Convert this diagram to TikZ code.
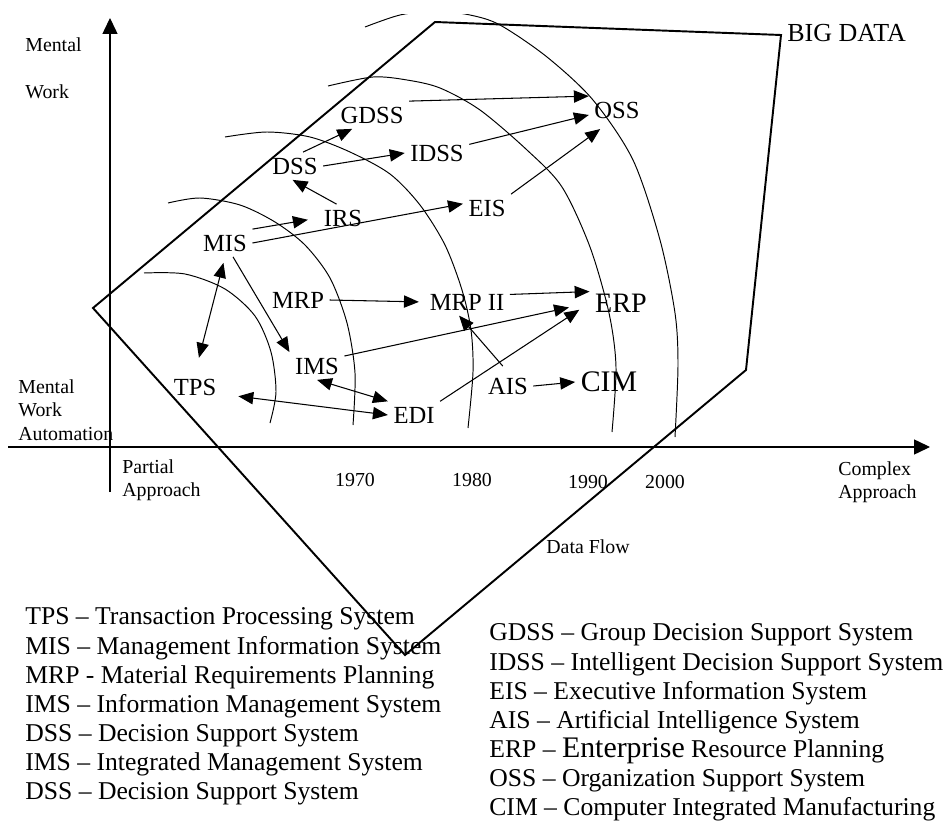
\documentclass[tikz,border=0pt]{standalone}
\usepackage{fontspec}
\setmainfont{Liberation Serif}
\usetikzlibrary{arrows.meta, positioning}

\tikzset{
  sys/.style={font=\fontsize{14}{16}\selectfont, inner sep=3pt},
  erpsys/.style={sys, font=\fontsize{16}{18}\selectfont},
  cimsys/.style={sys, font=\fontsize{17}{19}\selectfont},
  axlab/.style={font=\fontsize{11.3}{13.5}\selectfont, inner sep=0pt, align=left},
  legend/.style={font=\fontsize{14.6}{16.2}\selectfont, inner sep=0pt,
                 text height=11.5pt, text depth=4.7pt, anchor=west},
  flow/.style={line width=0.6pt, -{Triangle[length=8.5pt,width=7pt]}},
  both/.style={line width=0.6pt, {Triangle[length=8.5pt,width=7pt]}-{Triangle[length=8.5pt,width=7pt]}},
  axis/.style={line width=0.6pt, -{Triangle[length=9pt,width=8.5pt]}},
  era/.style={line width=0.55pt},
  bigdata/.style={line width=1.1pt, line join=miter}
}

\begin{document}
\begin{tikzpicture}[x=0.02cm, y=-0.02cm, node distance=0pt]
\useasboundingbox (0,0) rectangle (944,821);

% decades
\begin{scope}
\clip (0,15) rectangle (944,821);
\draw[era] plot[smooth] coordinates {(144,273) (185,274) (225,289) (255,316) (271,352) (276,392) (270,423)};
\draw[era] plot[smooth] coordinates {(168,203) (200,198) (240,205) (275,222) (305,245) (330,278) (347,323) (355,373) (353,425)};
\draw[era] plot[smooth] coordinates {(225,137) (267,132) (310,137) (350,152) (390,174) (420,205) (445,245) (462,290) (471,330) (473,372) (468,428)};
\draw[era] plot[smooth] coordinates {(328,86) (373,77) (407,80) (440,88) (480,110) (527,150) (562,187) (590,247) (609,313) (616,367) (612,432)};
\draw[era] plot[smooth] coordinates {(365,27) (400,15) (435,11) (470,15) (500,25) (547,57) (593,100) (633,160) (660,240) (675,313) (678,365) (675,437)};
\end{scope}

% axes
\coordinate (yfoot) at (110,492);
\coordinate (ytop) at (110,18);
\coordinate (xfoot) at (8,447);
\coordinate (xtip) at (930,447);
\draw[axis] (yfoot) -- (ytop);
\draw[axis] (xfoot) -- (xtip);

\node[axlab, anchor=west] (mental) at (25,45) {Mental};
\node[axlab, anchor=west] (work) at (25,92) {Work};
\node[axlab, anchor=north west] (automation) at (18,379) {Mental\\Work\\Automation};
\node[axlab, anchor=north west] (partial) at (122,459) {Partial\\Approach};
\node[axlab, anchor=north west] (complex) at (838,461) {Complex\\Approach};
\node[axlab] (y1970) at (355,480) {1970};
\node[axlab] (y1980) at (472,480) {1980};
\node[axlab] (y1990) at (588,482) {1990};
\node[axlab] (y2000) at (665,482) {2000};
\node[axlab] (dataflow) at (588,547) {Data Flow};

% big data frame
\draw[bigdata] (93,308) -- (435,22) -- (781,35) -- (746,370) -- (405,655) -- cycle;
\node[sys, anchor=west, inner sep=0pt, font=\fontsize{14.8}{16}\selectfont] (bigdata) at (787,33) {BIG DATA};

% systems
\node[sys] (gdss) at (372,115) {GDSS};
\node[sys] (dss) at (295,166) {DSS};
\node[sys] (idss) at (437,153) {IDSS};
\node[sys] (oss) at (617,110) {OSS};
\node[sys] (irs) at (343,218) {IRS};
\node[sys] (eis) at (487,208) {EIS};
\node[sys] (mis) at (225,243) {MIS};
\node[sys] (mrp) at (298,300) {MRP};
\node[sys] (mrpii) at (467,302) {MRP II};
\node[erpsys] (erp) at (621,303) {ERP};
\node[sys] (ims) at (317,366) {IMS};
\node[sys] (tps) at (195,387) {TPS};
\node[sys] (edi) at (414,415) {EDI};
\node[sys] (ais) at (508,386) {AIS};
\node[cimsys] (cim) at (609,382) {CIM};

\draw[flow] (gdss.north east) -- (oss.north west);
\draw[flow] (idss.15) -- (oss.190);
\draw[flow, shorten >=5pt] (eis.north east) -- (oss.235);
\draw[flow] (dss.60) -- (gdss.215);
\draw[flow] (dss.east) -- (idss.west);
\draw[flow] (irs.115) -- (dss.260);
\draw[flow, shorten >=6pt] (mis.north east) -- (irs.west);
\draw[flow] (mis.east) -- (eis.170);
\draw[both, shorten <=3.5pt, shorten >=9pt] (mis.south) -- (tps.north);
\draw[flow] (mis.300) -- (ims.north west);
\draw[flow, shorten >=3pt] (mrp.east) -- (mrpii.west);
\draw[flow] (mrpii.10) -- (erp.160);
\draw[flow, shorten >=12pt] (ims.20) -- (erp.west);
\draw[flow, shorten >=7pt] (edi.north east) -- (erp.west);
\draw[flow, shorten <=4.5pt] (ais.north) -- (mrpii.240);
\draw[flow] (ais.east) -- (cim.west);
\draw[both] (ims.south) -- (edi.north west);
\draw[both, shorten <=9.5pt] (tps.345) -- (edi.west);

% legend
\node[legend] (tpsleg) at (25,619) {TPS -- Transaction Processing System};
\node[legend, below=of tpsleg.south west, anchor=north west] (misleg) {MIS -- Management Information System};
\node[legend, below=of misleg.south west, anchor=north west] (mrpleg) {MRP - Material Requirements Planning};
\node[legend, below=of mrpleg.south west, anchor=north west] (imsleg) {IMS -- Information Management System};
\node[legend, below=of imsleg.south west, anchor=north west] (dssleg) {DSS -- Decision Support System};
\node[legend, below=of dssleg.south west, anchor=north west] (imsleg2) {IMS -- Integrated Management System};
\node[legend, below=of imsleg2.south west, anchor=north west] (dssleg2) {DSS -- Decision Support System};

\node[legend] (gdssleg) at (489,635) {GDSS -- Group Decision Support System};
\node[legend, below=of gdssleg.south west, anchor=north west] (idssleg) {IDSS -- Intelligent Decision Support System};
\node[legend, below=of idssleg.south west, anchor=north west] (eisleg) {EIS -- Executive Information System};
\node[legend, below=of eisleg.south west, anchor=north west] (aisleg) {AIS -- Artificial Intelligence System};
\node[legend, below=of aisleg.south west, anchor=north west] (erpleg) {ERP -- {\fontsize{17}{16.2}\selectfont Enterprise} Resource Planning};
\node[legend, below=of erpleg.south west, anchor=north west] (ossleg) {OSS -- Organization Support System};
\node[legend, below=of ossleg.south west, anchor=north west] (cimleg) {CIM -- Computer Integrated Manufacturing};
\end{tikzpicture}
\end{document}
